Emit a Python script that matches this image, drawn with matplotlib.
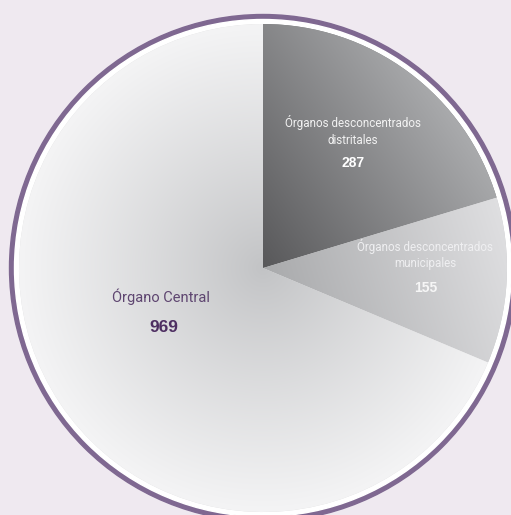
import numpy as np
import matplotlib
matplotlib.use("Agg")
import matplotlib.pyplot as plt
from matplotlib.patches import Circle

# data (clockwise from 12 o'clock)
labels = ["Órganos desconcentrados\ndistritales", "Órganos desconcentrados\nmunicipales", "Órgano Central"]
values = [287, 155, 969]

BG = "#efe9f0"
PURPLE = "#7f6891"

W, H = 511, 515
cx, cy = 263, H - 268
R = 244

fig = plt.figure(figsize=(W / 100, H / 100), dpi=100, facecolor=BG)
ax = fig.add_axes([0, 0, 1, 1])
ax.set_facecolor(BG)

# outer rings
ax.add_patch(Circle((cx, cy), 253.5, color=PURPLE, zorder=0))
ax.add_patch(Circle((cx, cy), 248.5, color="white", zorder=0.5))

wedges, _ = ax.pie(values, center=(cx, cy), radius=R, startangle=90, counterclock=False,
                   colors=["#7d7e80", "#c8c9cb", "#dcdcdd"], wedgeprops=dict(linewidth=0))

# gradient fills clipped to each wedge
yy, xx = np.mgrid[0:H, 0:W] + 0.5
dx, dy = xx - cx, yy - cy
rr = np.hypot(dx, dy) / R


def hexrgb(h):
    return np.array([int(h[i:i + 2], 16) / 255 for i in (1, 3, 5)])


def blend(t, c0, c1):
    t = np.clip(t, 0, 1)[..., None]
    return hexrgb(c0) * (1 - t) + hexrgb(c1) * t


# dark slice: linear, dark at the centre, lighter to the upper right
t_dark = (dx * 0.8 + dy * 0.55) / R
g_dark = blend(t_dark * 1.05, "#58585a", "#a8a9ab")
# medium slice: lighter outward
t_mid = (dx * 0.95 + dy * 0.3) / R
g_mid = blend(t_mid, "#a9aaac", "#dfdfe1")
# big slice: radial, grey at the centre, almost white at the rim
g_light = blend(rr ** 0.9, "#c2c3c5", "#f4f4f5")

for w, g in zip(wedges, [g_dark, g_mid, g_light]):
    im = ax.imshow(g, extent=(0, W, 0, H), origin="lower", zorder=2, interpolation="bilinear")
    im.set_clip_path(w)

thin = dict(family=["Roboto", "DejaVu Sans"], weight="normal")
bold = dict(family=["Liberation Sans", "DejaVu Sans"], weight="bold")

ax.text(353, H - 131, labels[0], ha="center", va="center", fontsize=8.4, color="#f2f2f2",
        linespacing=1.3, zorder=3, **thin)
ax.text(353, H - 163, str(values[0]), ha="center", va="center", fontsize=10, color="white",
        zorder=3, **bold)

ax.text(425, H - 255, labels[1], ha="center", va="center", fontsize=8.4, color="#efeff1",
        linespacing=1.3, zorder=3, **thin)
ax.text(426, H - 288, str(values[1]), ha="center", va="center", fontsize=10, color="#f6f6f6",
        zorder=3, **bold)

ax.text(161, H - 297, labels[2], ha="center", va="center", fontsize=10.5, color="#5e4570",
        zorder=3, **thin)
ax.text(164, H - 327, str(values[2]), ha="center", va="center", fontsize=12.5, color="#4e2f62",
        zorder=3, **bold)

ax.set_xlim(0, W)
ax.set_ylim(0, H)
ax.set_aspect("auto")
ax.axis("off")

fig.savefig("out.png", dpi=100, facecolor=BG)
